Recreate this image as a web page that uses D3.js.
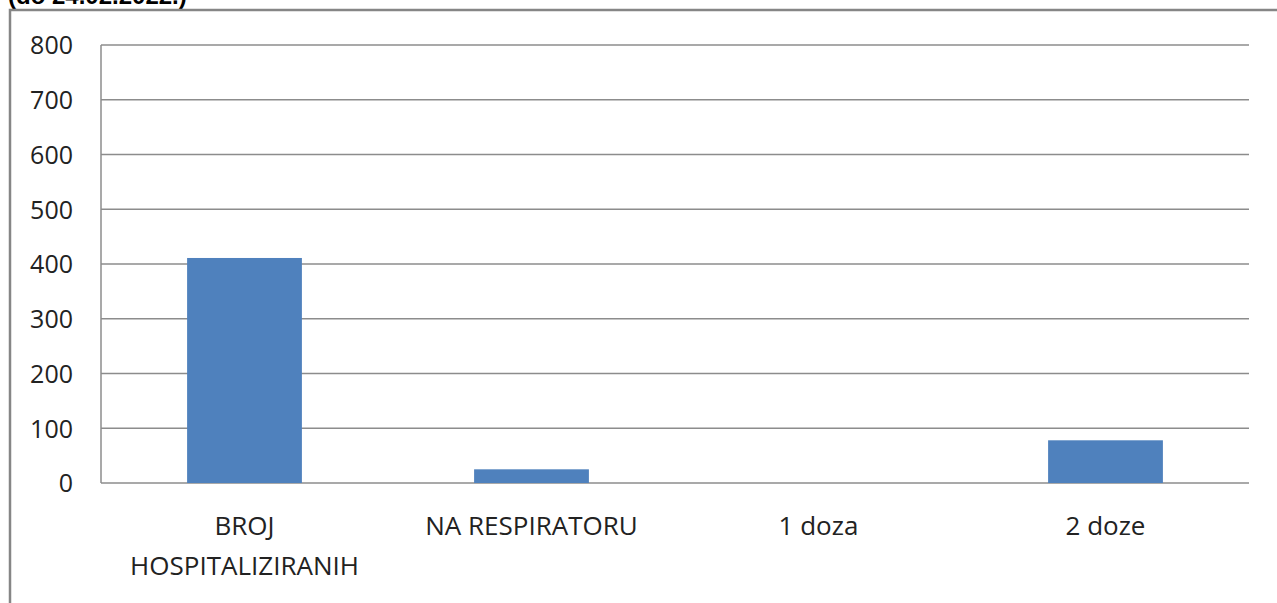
<!DOCTYPE html>
<html>
<head>
<meta charset="utf-8">
<script src="https://cdn.jsdelivr.net/npm/d3@7"></script>
<style>
  body { margin: 0; background: #fff; }
  svg { display: block; }
</style>
</head>
<body>
<script>
var w = 1277;
var h = 603;

// data
var categories = [["BROJ", "HOSPITALIZIRANIH"], ["NA RESPIRATORU"], ["1 doza"], ["2 doze"]];
var values = [411, 25, 0, 78];
var yTicks = [0, 100, 200, 300, 400, 500, 600, 700, 800];
var title = "(do 24.02.2022.)";

var plotLeft = 101, plotRight = 1249, plotTop = 45, plotBottom = 483;
var font = "'Open Sans', sans-serif";

var svg = d3.select("body")
    .append("svg")
    .attr("width", w)
    .attr("height", h);

// title, cut at the top edge
svg.append("text")
    .attr("x", 8)
    .attr("y", 4)
    .attr("font-family", "'Liberation Sans', Arial, sans-serif")
    .attr("font-weight", "bold")
    .attr("font-size", "24px")
    .attr("fill", "#000")
    .text(title);

// outer frame (left and top only visible)
svg.append("path")
    .attr("d", "M10," + h + "V10H" + w)
    .attr("fill", "none")
    .attr("stroke", "#868686")
    .attr("stroke-width", 2.5);

var xScale = d3.scaleBand()
    .domain(d3.range(categories.length))
    .range([plotLeft, plotRight])
    .paddingInner(0.6)
    .paddingOuter(0.3);

var yScale = d3.scaleLinear()
    .domain([0, 800])
    .range([plotBottom, plotTop]);

// gridlines
svg.append("g")
    .selectAll("line")
    .data(yTicks)
    .enter()
    .append("line")
    .attr("x1", plotLeft)
    .attr("x2", plotRight)
    .attr("y1", function(d) { return yScale(d); })
    .attr("y2", function(d) { return yScale(d); })
    .attr("stroke", "#8c8c8c")
    .attr("stroke-width", 1.5);

// y axis line
svg.append("line")
    .attr("x1", plotLeft).attr("x2", plotLeft)
    .attr("y1", plotTop).attr("y2", plotBottom)
    .attr("stroke", "#8c8c8c")
    .attr("stroke-width", 1.5);

// y tick labels
var yAxis = d3.axisLeft(yScale)
    .tickValues(yTicks)
    .tickSize(0)
    .tickPadding(28);
var gy = svg.append("g")
    .attr("transform", "translate(" + plotLeft + ",0)")
    .call(yAxis);
gy.select(".domain").remove();
gy.selectAll("text")
    .attr("font-family", font)
    .attr("font-size", "25px")
    .attr("fill", "#222")
    .attr("dy", "0.35em");

// bars
svg.selectAll("rect.bar")
    .data(values)
    .enter()
    .append("rect")
    .attr("class", "bar")
    .attr("x", function(d, i) { return xScale(i); })
    .attr("y", function(d) { return yScale(d); })
    .attr("width", xScale.bandwidth())
    .attr("height", function(d) { return yScale(0) - yScale(d); })
    .attr("fill", "#4f81bd");

// category labels
var xAxis = d3.axisBottom(xScale).tickSize(0).tickFormat("");
var gx = svg.append("g")
    .attr("transform", "translate(0," + plotBottom + ")")
    .call(xAxis);
gx.select(".domain").remove();
gx.selectAll(".tick").each(function(i) {
    var t = d3.select(this).append("text")
        .attr("text-anchor", "middle")
        .attr("font-family", font)
        .attr("font-size", "26px")
        .attr("fill", "#222");
    categories[i].forEach(function(line, k) {
        t.append("tspan")
            .attr("x", 0)
            .attr("y", 52 + k * 40)
            .text(line);
    });
});
</script>
</body>
</html>
